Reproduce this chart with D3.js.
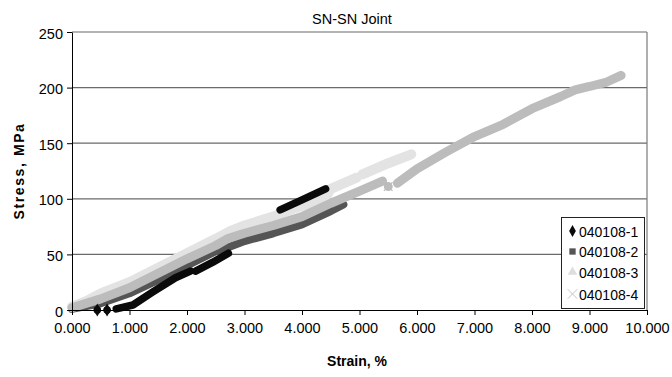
<!DOCTYPE html>
<html><head><meta charset="utf-8">
<script src="https://cdn.jsdelivr.net/npm/d3@7"></script>
<style>
body{margin:0;background:#fff;}
svg text{font-family:"Liberation Sans",Arial,sans-serif;}
</style></head>
<body><svg id="c" width="672" height="377"></svg>
<script>
// ---- data ----
const title = "SN-SN Joint";
const xLabel = "Strain, %";
const yLabel = "Stress, MPa";
const xTicks = [0,1,2,3,4,5,6,7,8,9,10];
const yTicks = [0,50,100,150,200,250];
const seriesNames = ["040108-1","040108-2","040108-3","040108-4"];

const s1x = [0.44, null, 0.61, null, 0.77, 1.06, 1.4, 1.8, 2.06, null, 2.15, 2.45, 2.72, null, 3.62, 4.0, 4.41];
const s1y = [0,    null, 0,    null, 1,    4.5,  16,  29,  35,   null, 35,   43,   51,   null, 90,   99,  109];

const s2x = [0, 0.5, 1.0, 1.5, 2.0, 2.5, 2.75, 3.0, 3.5, 4.0, 4.5, 4.72];
const s2y = [1, 6,   15,  27,  40,  53,  57,   62,  69,  77,  89,  95];

const s3x = [0, 0.25, 0.5, 1.0, 1.5, 2.0, 2.5, 2.75, 3.0, 3.5, 3.9, 4.4, 4.5, 4.95, null, 5.05, 5.5, 5.9];
const s3y = [3, 8,    15,  25,  38,  51,  64,  71,   76,  84,  92,  100, 109, 119,  null, 122,  132, 140];

const s4x = [0, 0.5, 1.0, 1.5, 2.0, 2.5, 2.7, 3.0, 3.5, 4.0, 4.5, 5.0, 5.4, null, 5.5, null, 5.66, 6.0, 6.5, 7.0, 7.5, 8.0, 8.5, 8.75, 9.0, 9.3, 9.55];
const s4y = [2, 10,  20,  33,  46,  58,  64,  69,  76,  84,  96,  107, 116, null, 111, null, 114,  127, 142, 156, 167, 181, 192, 198,  201, 205, 211];

// ---- layout ----
const svg = d3.select("#c");
const L = 72, R = 647, T = 32, B = 310;
const x = d3.scaleLinear().domain([0,10]).range([L,R]);
const y = d3.scaleLinear().domain([0,250]).range([B,T]);

// gridlines
svg.append("g").selectAll("line").data(yTicks.filter(d=>d>0)).join("line")
  .attr("x1",L).attr("x2",R).attr("y1",d=>y(d)).attr("y2",d=>y(d))
  .attr("stroke","#6a6a6a").attr("stroke-width",1.2);
// right border
svg.append("line").attr("x1",R).attr("x2",R).attr("y1",T).attr("y2",B)
  .attr("stroke","#7a7a7a").attr("stroke-width",1.2);

const styles = [
  {x:s1x, y:s1y, color:"#0a0a0a", w:7.5, sym:d3.symbolDiamond},
  {x:s2x, y:s2y, color:"#555555", w:8, sym:d3.symbolSquare},
  {x:s3x, y:s3y, color:"#e3e3e3", w:10, sym:d3.symbolTriangle},
  {x:s4x, y:s4y, color:"#bcbcbc", w:9, sym:null}
];
function pts(s){ return s.x.map((v,i)=>({x:v, y:s.y[i]})); }
const line = d3.line().defined(d=>d.x!=null && d.y!=null).x(d=>x(d.x)).y(d=>y(d.y));

const drawOrder = [1,2,3,0];
const plot = svg.append("g");
drawOrder.forEach(k=>{
  const s = styles[k];
  const p = pts(s);
  plot.append("path").attr("d",line(p)).attr("fill","none")
    .attr("stroke",s.color).attr("stroke-width",s.w)
    .attr("stroke-linejoin","round").attr("stroke-linecap","round");
  // isolated points as markers
  p.forEach((d,i)=>{
    if(d.x==null) return;
    const prev = p[i-1], next = p[i+1];
    const iso = (!prev || prev.x==null) && (!next || next.x==null);
    if(!iso) return;
    if(s.sym){
      plot.append("path").attr("d",d3.symbol().type(s.sym).size(50)())
        .attr("transform",`translate(${x(d.x)},${y(d.y)})`).attr("fill",s.color);
    } else {
      plot.append("path").attr("d",d3.symbol().type(d3.symbolX).size(50)())
        .attr("transform",`translate(${x(d.x)},${y(d.y)})`).attr("fill","none")
        .attr("stroke",s.color).attr("stroke-width",1.2);
    }
  });
});

// axes
const xAxis = d3.axisBottom(x).tickValues(xTicks).tickFormat(d3.format(".3f")).tickSize(5).tickSizeOuter(0);
const gx = svg.append("g").attr("transform",`translate(0,${B})`).call(xAxis);
gx.select(".domain").attr("stroke","#000");
gx.selectAll(".tick line").attr("stroke","#000");
gx.selectAll("text").attr("font-size","14.5px").attr("fill","#000").attr("dy","1.05em")
  .attr("font-family","Liberation Sans, Arial, sans-serif");

const yAxis = d3.axisLeft(y).tickValues(yTicks).tickSize(5).tickSizeOuter(0);
const gy = svg.append("g").attr("transform",`translate(${L},0)`).call(yAxis);
gy.select(".domain").attr("stroke","#000");
gy.selectAll(".tick line").attr("stroke","#000");
gy.selectAll("text").attr("font-size","14.5px").attr("fill","#000").attr("x",-9).attr("dy","0.42em")
  .attr("font-family","Liberation Sans, Arial, sans-serif");

// titles
svg.append("text").attr("x",352).attr("y",24).attr("text-anchor","middle")
  .attr("font-size","14.5px").text(title);
svg.append("text").attr("x",357).attr("y",366).attr("text-anchor","middle")
  .attr("font-size","14px").attr("font-weight","bold").text(xLabel);
svg.append("text").attr("transform","translate(24,171) rotate(-90)").attr("text-anchor","middle")
  .attr("font-size","14px").attr("font-weight","bold").attr("letter-spacing","1.6px").text(yLabel);

// legend
const lg = svg.append("g");
lg.append("rect").attr("x",561.5).attr("y",217.5).attr("width",83).attr("height",91)
  .attr("fill","#fff").attr("stroke","#222").attr("stroke-width",1);
const legY = [231, 251.5, 272, 294];
const legColors = ["#0a0a0a","#555555","#dedede","#c4c4c4"];
seriesNames.forEach((n,i)=>{
  const cy = legY[i];
  if(i<3){
    lg.append("path").attr("d",d3.symbol().type([d3.symbolDiamond,d3.symbolSquare,d3.symbolTriangle][i]).size(40)())
      .attr("transform",`translate(572.5,${cy})`).attr("fill",legColors[i]);
  } else {
    lg.append("path").attr("d",d3.symbol().type(d3.symbolX).size(60)())
      .attr("transform",`translate(572.5,${cy})`).attr("fill","none").attr("stroke",legColors[i]).attr("stroke-width",1);
  }
  lg.append("text").attr("x",579).attr("y",cy+5.5).attr("font-size","14px").attr("fill","#000").text(n);
});
</script></body></html>
